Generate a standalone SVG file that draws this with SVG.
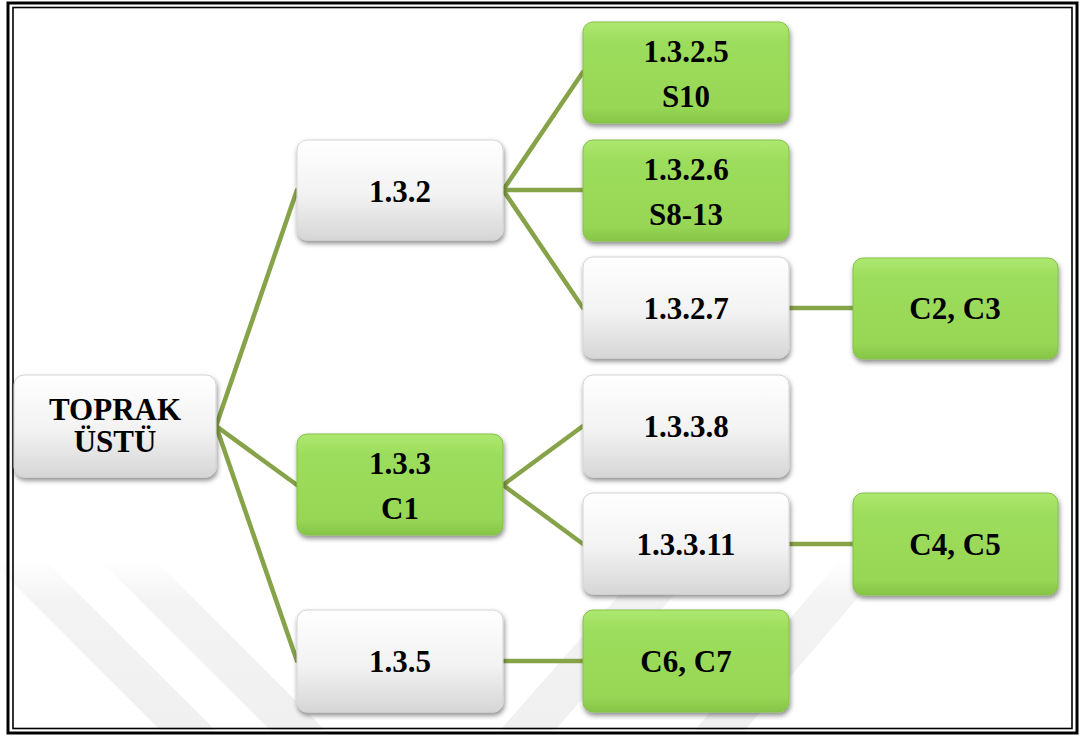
<svg xmlns="http://www.w3.org/2000/svg" width="1080" height="738" viewBox="0 0 1080 738">
<defs>
<linearGradient id="gW" x1="0" y1="0" x2="0" y2="1">
<stop offset="0" stop-color="#ffffff"/>
<stop offset="0.55" stop-color="#f2f2f2"/>
<stop offset="1" stop-color="#d6d6d6"/>
</linearGradient>
<linearGradient id="gG" x1="0" y1="0" x2="0" y2="1">
<stop offset="0" stop-color="#ade870"/>
<stop offset="0.2" stop-color="#9ddd5c"/>
<stop offset="0.85" stop-color="#97d755"/>
<stop offset="1" stop-color="#86c446"/>
</linearGradient>
<linearGradient id="gWm" gradientUnits="userSpaceOnUse" x1="0" y1="560" x2="0" y2="730">
<stop offset="0" stop-color="#f0f0f0" stop-opacity="0"/>
<stop offset="0.25" stop-color="#f0f0f0" stop-opacity="0.8"/>
<stop offset="1" stop-color="#f0f0f0" stop-opacity="1"/>
</linearGradient>
<filter id="sh" x="-10%" y="-10%" width="125%" height="135%">
<feDropShadow dx="1" dy="3" stdDeviation="2.5" flood-color="#000" flood-opacity="0.45"/>
</filter>
</defs>
<style>
.w{fill:url(#gW);stroke:#d4d4d4;stroke-width:1;filter:url(#sh)}
.g{fill:url(#gG);stroke:#86c048;stroke-width:1;filter:url(#sh)}
.t{font-family:"Liberation Serif","Times New Roman",serif;font-weight:bold;font-size:31px;fill:#000;text-anchor:middle}
.c{stroke:#87a34a;stroke-width:4.5;fill:none;stroke-linecap:round}
.wm{fill:url(#gWm)}
</style>
<rect x="0" y="0" width="1080" height="738" fill="#ffffff"/>
<g id="watermark">
<polygon class="wm" points="-10,560 45,560 215,730 160,730"/>
<polygon class="wm" points="100,560 155,560 325,730 270,730"/>
<polygon class="wm" points="650,560 705,560 555,730 500,730"/>
<polygon class="wm" points="840,560 890,560 745,730 695,730"/>
</g>
<g id="border" fill="none" stroke="#000">
<rect x="8" y="3" width="1069" height="730" stroke-width="3"/>
<rect x="13" y="7.5" width="1059" height="721" stroke-width="1.6"/>
</g>
<g id="connectors">
<line class="c" x1="216" y1="426" x2="297" y2="190"/>
<line class="c" x1="216" y1="426" x2="297" y2="485"/>
<line class="c" x1="216" y1="426" x2="297" y2="661"/>
<line class="c" x1="503" y1="190" x2="583" y2="72"/>
<line class="c" x1="503" y1="190" x2="583" y2="190"/>
<line class="c" x1="503" y1="190" x2="583" y2="308"/>
<line class="c" x1="789" y1="308" x2="853" y2="308"/>
<line class="c" x1="503" y1="485" x2="583" y2="426"/>
<line class="c" x1="503" y1="485" x2="583" y2="544"/>
<line class="c" x1="789" y1="544" x2="853" y2="544"/>
<line class="c" x1="503" y1="661" x2="583" y2="661"/>
</g>
<g id="n-toprak"><rect class="w" x="14" y="375" width="202" height="102" rx="10"/><text class="t" x="115" y="420">TOPRAK</text><text class="t" x="115" y="452">ÜSTÜ</text></g>
<g id="n-132"><rect class="w" x="297" y="140" width="206" height="100" rx="10"/><text class="t" x="400" y="202">1.3.2</text></g>
<g id="n-133"><rect class="g" x="297" y="434" width="206" height="101" rx="10"/><text class="t" x="400" y="474">1.3.3</text><text class="t" x="400" y="519">C1</text></g>
<g id="n-135"><rect class="w" x="297" y="610" width="206" height="102" rx="10"/><text class="t" x="400" y="672">1.3.5</text></g>
<g id="n-1325"><rect class="g" x="583" y="22" width="206" height="101" rx="10"/><text class="t" x="686" y="62">1.3.2.5</text><text class="t" x="686" y="107">S10</text></g>
<g id="n-1326"><rect class="g" x="583" y="140" width="206" height="101" rx="10"/><text class="t" x="686" y="180">1.3.2.6</text><text class="t" x="686" y="225">S8-13</text></g>
<g id="n-1327"><rect class="w" x="583" y="257" width="206" height="101" rx="10"/><text class="t" x="686" y="319">1.3.2.7</text></g>
<g id="n-1338"><rect class="w" x="583" y="375" width="206" height="102" rx="10"/><text class="t" x="686" y="437">1.3.3.8</text></g>
<g id="n-13311"><rect class="w" x="583" y="493" width="206" height="101" rx="10"/><text class="t" x="686" y="555">1.3.3.11</text></g>
<g id="n-c6c7"><rect class="g" x="583" y="610" width="206" height="102" rx="10"/><text class="t" x="686" y="672">C6, C7</text></g>
<g id="n-c2c3"><rect class="g" x="853" y="258" width="205" height="101" rx="10"/><text class="t" x="955" y="319">C2, C3</text></g>
<g id="n-c4c5"><rect class="g" x="853" y="493" width="205" height="102" rx="10"/><text class="t" x="955" y="555">C4, C5</text></g>
</svg>
